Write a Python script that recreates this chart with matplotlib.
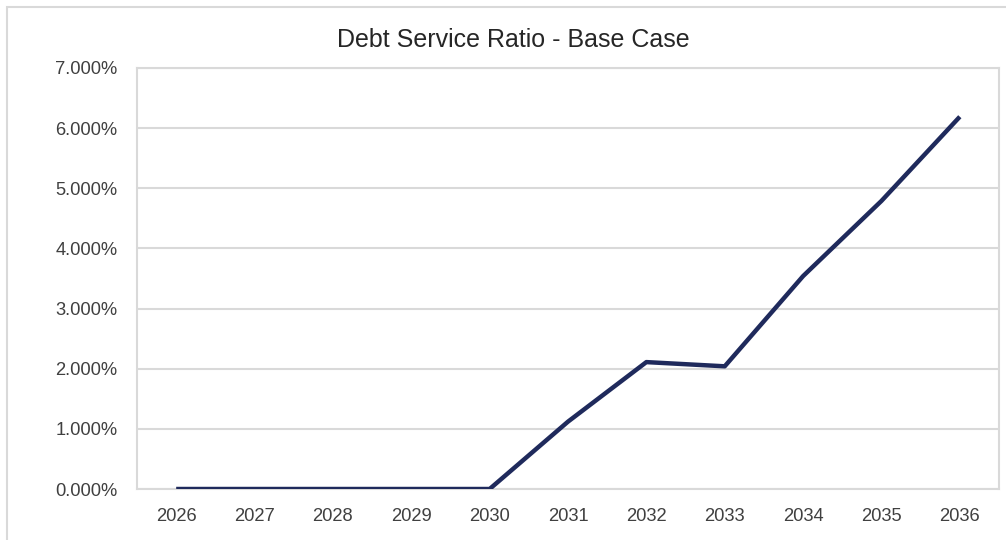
import matplotlib.pyplot as plt
from matplotlib.patches import Rectangle
from matplotlib.ticker import FuncFormatter

plt.rcParams['font.family'] = ['Liberation Sans', 'DejaVu Sans']

years = ['2026', '2027', '2028', '2029', '2030', '2031', '2032', '2033', '2034', '2035', '2036']
ratio = [0.0, 0.0, 0.0, 0.0, 0.0, 1.12, 2.11, 2.04, 3.54, 4.79, 6.19]

grid_col = '#d9d9d9'
text_col = '#404040'

fig = plt.figure(figsize=(10.06, 5.4), dpi=100)
ax = fig.add_axes([137 / 1006, 51 / 540, 862 / 1006, 421 / 540])

# outer chart border (only left/top visible in the crop)
fig.patches.append(Rectangle((7 / 1006, -0.1), 1.2, (533 / 540) + 0.1,
                             transform=fig.transFigure, fill=False,
                             edgecolor='#d9d9d9', linewidth=1.5))

x = range(len(years))
ax.plot(x, ratio, color='#1f2a5c', linewidth=3.2, solid_capstyle='butt', zorder=3)

ax.set_xlim(-0.5, len(years) - 0.5)
ax.set_ylim(0, 7)
ax.set_yticks(range(0, 8))
ax.yaxis.set_major_formatter(FuncFormatter(lambda v, p: f'{v:.3f}%'))
ax.set_xticks(list(x))
ax.set_xticklabels(years)

ax.grid(axis='y', color=grid_col, linewidth=1.5, zorder=0)
ax.set_axisbelow(True)
for s in ['left', 'right', 'top', 'bottom']:
    ax.spines[s].set_color(grid_col)
    ax.spines[s].set_linewidth(1.5)

ax.tick_params(axis='both', length=0, labelsize=13.2, labelcolor=text_col)
ax.tick_params(axis='y', pad=14)
ax.tick_params(axis='x', pad=14)

fig.text(513 / 1006, 1 - 40 / 540, 'Debt Service Ratio - Base Case',
         ha='center', va='center', fontsize=18, color='#262626')

fig.savefig('out.png', dpi=100)
